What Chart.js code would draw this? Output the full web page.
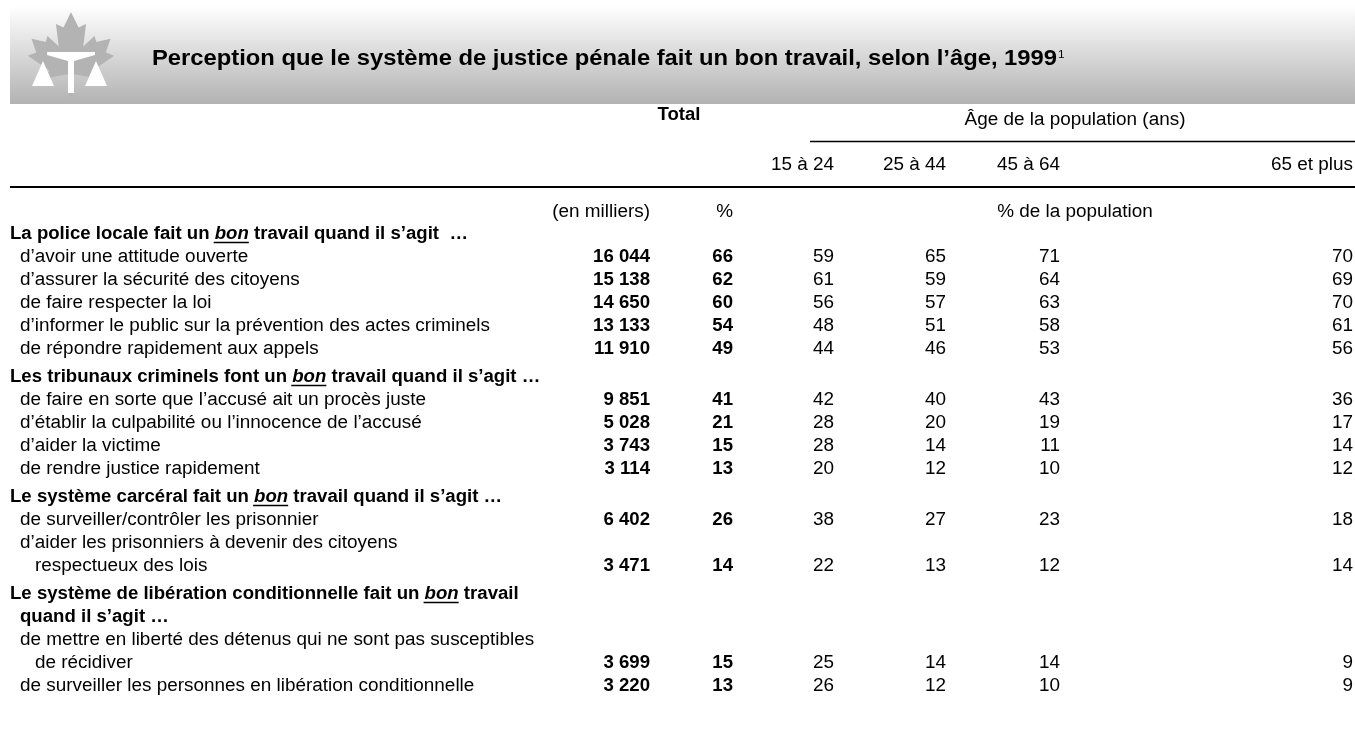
<!DOCTYPE html>
<html><head><meta charset="utf-8">
<script src="https://cdn.jsdelivr.net/npm/chart.js@4.4.1/dist/chart.umd.min.js"></script>
<style>html,body{margin:0;padding:0;background:#fff;}canvas{display:block;}</style>
</head><body>
<canvas id="c" width="1355" height="738"></canvas>
<script>
// ---------- DATA ----------
const chartTitle = "Perception que le système de justice pénale fait un bon travail, selon l’âge, 1999";
const titleNote = "1";
const sectionTitles = [
  "La police locale fait un _bon_ travail quand il s’agit  …",
  "Les tribunaux criminels font un _bon_ travail quand il s’agit …",
  "Le système carcéral fait un _bon_ travail quand il s’agit …",
  "Le système de libération conditionnelle fait un _bon_ travail\nquand il s’agit …"
];
const categories = [
  "d’avoir une attitude ouverte",
  "d’assurer la sécurité des citoyens",
  "de faire respecter la loi",
  "d’informer le public sur la prévention des actes criminels",
  "de répondre rapidement aux appels",
  "de faire en sorte que l’accusé ait un procès juste",
  "d’établir la culpabilité ou l’innocence de l’accusé",
  "d’aider la victime",
  "de rendre justice rapidement",
  "de surveiller/contrôler les prisonnier",
  "d’aider les prisonniers à devenir des citoyens\nrespectueux des lois",
  "de mettre en liberté des détenus qui ne sont pas susceptibles\nde récidiver",
  "de surveiller les personnes en libération conditionnelle"
];
const sectionOf = [0,0,0,0,0,1,1,1,1,2,2,3,3];
const totalThousands = [16044,15138,14650,13133,11910,9851,5028,3743,3114,6402,3471,3699,3220];
const totalPct       = [66,62,60,54,49,41,21,15,13,26,14,15,13];
const age15to24      = [59,61,56,48,44,42,28,28,20,38,22,25,26];
const age25to44      = [65,59,57,51,46,40,20,14,12,27,13,14,12];
const age45to64      = [71,64,63,58,53,43,19,11,10,23,12,14,10];
const age65plus      = [70,69,70,61,56,36,17,14,12,18,14,9,9];
const ageGroups = ["15 à 24","25 à 44","45 à 64","65 et plus"];
const totalHeader = "Total";
const ageHeader = "Âge de la population (ans)";
const unitLabels = ["(en milliers)", "%", "% de la population"];

// ---------- LAYOUT ----------
const W = 1355, H = 738;
const COL_RIGHT = [650, 733, 834, 946, 1060, 1353];
const X_SECTION = 10, X_ITEM = 20, X_CONT = 35;
const Y_FIRST = 234, LINE = 23, GAP = 5;
const FONT = '"Liberation Sans", Arial, sans-serif';
const FS = 18;

const textLines = [];
const rowY = [];
(function(){
  let y = Y_FIRST - LINE;
  let cur = -1;
  categories.forEach((cat, i) => {
    const s = sectionOf[i];
    if (s !== cur) {
      cur = s;
      y += (s > 0 ? GAP : 0);
      sectionTitles[s].split("\n").forEach((t, k) => {
        y += LINE;
        textLines.push({text: t, x: k === 0 ? X_SECTION : X_ITEM, y, bold: true});
      });
    }
    cat.split("\n").forEach((t, k) => {
      y += LINE;
      textLines.push({text: t, x: k === 0 ? X_ITEM : X_CONT, y, bold: false});
    });
    rowY.push(y);
  });
})();

const series = [totalThousands, totalPct, age15to24, age25to44, age45to64, age65plus];
const seriesBold = [true, true, false, false, false, false];
const fmt = v => String(v).replace(/\B(?=(\d{3})+(?!\d))/g, ' ');

let SX = {reg: 0.82, bold: 0.82};
function setFont(ctx, size, bold, italic) {
  ctx.font = (italic ? 'italic ' : '') + (bold ? 'bold ' : '') + size + 'px ' + FONT;
}
function drawT(ctx, str, x, y, o) {
  o = o || {};
  const size = o.size || FS;
  const sx = o.sx || (o.bold ? SX.bold : SX.reg);
  setFont(ctx, size, o.bold, o.italic);
  ctx.save();
  ctx.translate(x, y);
  ctx.scale(sx, 1);
  ctx.textAlign = o.align || 'left';
  ctx.textBaseline = 'middle';
  ctx.fillStyle = '#000';
  ctx.fillText(str, 0, 0);
  const w = ctx.measureText(str).width * sx;
  ctx.restore();
  return w;
}
function drawRich(ctx, str, x, y) {
  const parts = str.split('_');
  let cx = x;
  parts.forEach((p, i) => {
    if (!p) return;
    const it = i % 2 === 1;
    const w = drawT(ctx, p, cx, y, {bold: true, italic: it});
    if (it) {
      ctx.save();
      ctx.strokeStyle = '#000'; ctx.lineWidth = 1.3;
      ctx.beginPath(); ctx.moveTo(cx - 1, y + 8.5); ctx.lineTo(cx + w, y + 8.5); ctx.stroke();
      ctx.restore();
    }
    cx += w;
  });
}

function drawLogo(ctx) {
  const cx = 71, top = 12, sxl = 0.94, syl = 0.86;
  const pts = [[50,0],[58,18],[66,14],[63,40],[75,28],[77,35],[92,31],[87,47],[96,51],[73,68],[77,77],[52,72],[52,98],[48,98],[48,72],[23,77],[27,68],[4,51],[13,47],[8,31],[23,35],[25,28],[37,40],[34,14],[42,18]];
  ctx.save();
  ctx.fillStyle = '#b3b3b3';
  ctx.beginPath();
  pts.forEach((p, i) => {
    const X = cx + (p[0] - 50) * sxl, Y = top + p[1] * syl;
    i ? ctx.lineTo(X, Y) : ctx.moveTo(X, Y);
  });
  ctx.closePath(); ctx.fill();
  ctx.fillStyle = '#ffffff';
  ctx.beginPath();
  ctx.moveTo(47, 52); ctx.lineTo(95, 52); ctx.lineTo(95, 55); ctx.lineTo(74, 61); ctx.lineTo(68, 61); ctx.lineTo(47, 55); ctx.closePath(); ctx.fill();
  ctx.fillRect(68, 57, 6, 36);
  ctx.beginPath(); ctx.moveTo(43, 61); ctx.lineTo(54, 86); ctx.lineTo(32, 86); ctx.closePath(); ctx.fill();
  ctx.beginPath(); ctx.moveTo(96, 61); ctx.lineTo(107, 86); ctx.lineTo(85, 86); ctx.closePath(); ctx.fill();
  ctx.restore();
}

const tablePlugin = {
  id: 'tablePlugin',
  beforeDraw(chart) {
    const ctx = chart.ctx;
    setFont(ctx, FS, false);
    SX.reg = 470 / ctx.measureText(categories[3]).width;
    setFont(ctx, FS, true);
    SX.bold = 458 / ctx.measureText(sectionTitles[0].replace(/_/g,'')).width;
    ctx.save();
    ctx.fillStyle = '#fff'; ctx.fillRect(0, 0, W, H);
    const g = ctx.createLinearGradient(0, 6, 0, 104);
    g.addColorStop(0, '#ffffff'); g.addColorStop(1, '#b2b2b2');
    ctx.fillStyle = g; ctx.fillRect(10, 0, W - 10, 104);
    ctx.restore();
    drawLogo(ctx);
    setFont(ctx, 22, true);
    const tsx = 905 / ctx.measureText(chartTitle).width;
    const tw = drawT(ctx, chartTitle, 152, 59, {bold: true, size: 22, sx: tsx});
    drawT(ctx, titleNote, 152 + tw + 1, 55, {size: 11, sx: tsx});
  },
  afterDatasetsDraw(chart) {
    const ctx = chart.ctx;
    const xs = chart.scales.x, ys = chart.scales.y;
    drawT(ctx, totalHeader, xs.getPixelForValue(679), ys.getPixelForValue(115), {bold: true, align: 'center'});
    drawT(ctx, ageHeader, xs.getPixelForValue(1075), ys.getPixelForValue(120), {align: 'center'});
    ageGroups.forEach((a, i) => drawT(ctx, a, xs.getPixelForValue(COL_RIGHT[i + 2]), ys.getPixelForValue(165), {align: 'right'}));
    drawT(ctx, unitLabels[0], xs.getPixelForValue(COL_RIGHT[0]), ys.getPixelForValue(212), {align: 'right'});
    drawT(ctx, unitLabels[1], xs.getPixelForValue(COL_RIGHT[1]), ys.getPixelForValue(212), {align: 'right'});
    drawT(ctx, unitLabels[2], xs.getPixelForValue(1075), ys.getPixelForValue(212), {align: 'center'});
    ctx.save();
    ctx.strokeStyle = '#000';
    ctx.lineWidth = 1.3;
    ctx.beginPath(); ctx.moveTo(810, 141.5); ctx.lineTo(W, 141.5); ctx.stroke();
    ctx.lineWidth = 2;
    ctx.beginPath(); ctx.moveTo(10, 187); ctx.lineTo(W, 187); ctx.stroke();
    ctx.restore();
    textLines.forEach(l => {
      const y = ys.getPixelForValue(l.y);
      const x = xs.getPixelForValue(l.x);
      if (l.bold) drawRich(ctx, l.text, x, y); else drawT(ctx, l.text, x, y);
    });
    chart.data.datasets.forEach((ds, di) => {
      const meta = chart.getDatasetMeta(di);
      meta.data.forEach((el, i) => {
        drawT(ctx, fmt(ds.data[i].v), el.x, el.y, {bold: seriesBold[di], align: 'right'});
      });
    });
  }
};

new Chart(document.getElementById('c'), {
  type: 'scatter',
  data: {
    datasets: series.map((vals, c) => ({
      label: c < 2 ? totalHeader : ageGroups[c - 2],
      data: vals.map((v, i) => ({x: COL_RIGHT[c], y: rowY[i], v})),
      pointRadius: 0, pointHoverRadius: 0, showLine: false
    }))
  },
  options: {
    responsive: false, animation: false, devicePixelRatio: 1,
    layout: {padding: 0},
    plugins: {legend: {display: false}, tooltip: {enabled: false}},
    events: [],
    scales: {
      x: {type: 'linear', min: 0, max: W, display: false},
      y: {type: 'linear', min: 0, max: H, reverse: true, display: false}
    }
  },
  plugins: [tablePlugin]
});
</script>
</body></html>
